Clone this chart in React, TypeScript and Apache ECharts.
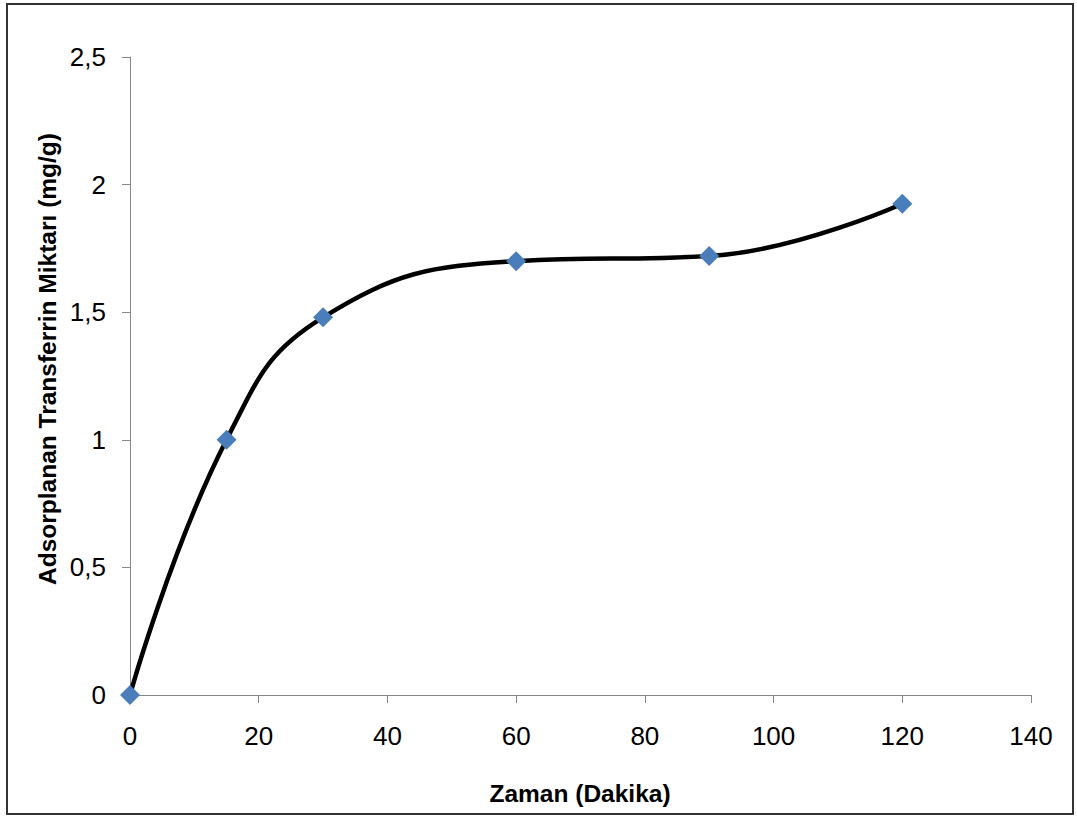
import React, { useEffect, useRef } from "react";
import * as echarts from "echarts";

const timeMinutes = [0, 15, 30, 60, 90, 120];
const adsorbed = [0, 1.0, 1.48, 1.7, 1.72, 1.925];
const xTitle = "Zaman (Dakika)";
const yTitle = "Adsorplanan Transferrin Miktarı (mg/g)";

export default function App() {
  const ref = useRef<HTMLDivElement>(null);
  useEffect(() => {
    if (!ref.current) return;
    const chart = echarts.init(ref.current, null, { renderer: "svg" });
    const axisGray = "#868686";
    chart.setOption({
      animation: false,
      backgroundColor: "#ffffff",
      grid: { left: 130, right: 46, top: 57, bottom: 124, containLabel: false },
      xAxis: {
        type: "value",
        min: 0,
        max: 140,
        interval: 20,
        axisLine: { show: true, onZero: false, lineStyle: { color: axisGray, width: 1 } },
        axisTick: { show: true, inside: false, length: 8, lineStyle: { color: axisGray } },
        splitLine: { show: false },
        axisLabel: {
          color: "#000",
          fontSize: 26,
          fontFamily: "Liberation Sans, Arial, sans-serif",
          margin: 28,
        },
      },
      yAxis: {
        type: "value",
        min: 0,
        max: 2.5,
        interval: 0.5,
        axisLine: { show: true, lineStyle: { color: axisGray, width: 1 } },
        axisTick: { show: true, inside: false, length: 8, lineStyle: { color: axisGray } },
        splitLine: { show: false },
        axisLabel: {
          color: "#000",
          fontSize: 26,
          fontFamily: "Liberation Sans, Arial, sans-serif",
          margin: 24,
          formatter: (v: number) => String(v).replace(".", ","),
        },
      },
      graphic: [
        {
          type: "rect",
          shape: { x: 7, y: 4, width: 1066, height: 810 },
          style: { fill: "none", stroke: "#333", lineWidth: 2 },
          silent: true,
          z: -10,
        },
        {
          type: "text",
          x: 47,
          y: 359,
          rotation: Math.PI / 2,
          style: {
            text: yTitle,
            fontSize: 24.5,
            fontWeight: "bold",
            fontFamily: "Liberation Sans, Arial, sans-serif",
            fill: "#000",
            align: "center",
            verticalAlign: "middle",
          },
        },
        {
          type: "text",
          x: 580,
          y: 793,
          style: {
            text: xTitle,
            fontSize: 24.5,
            fontWeight: "bold",
            fontFamily: "Liberation Sans, Arial, sans-serif",
            fill: "#000",
            align: "center",
            verticalAlign: "middle",
          },
        },
      ],
      series: [
        {
          type: "line",
          data: timeMinutes.map((t, i) => [t, adsorbed[i]]),
          smooth: 0.45,
          symbol: "diamond",
          symbolSize: [20, 20],
          lineStyle: { color: "#000", width: 4.5 },
          itemStyle: { color: "#4a7ebb", borderWidth: 0 },
          z: 3,
        },
      ],
    });
    return () => chart.dispose();
  }, []);
  return (
    <div
      ref={ref}
      style={{ position: "fixed", left: 0, top: 0, width: 1077, height: 819, background: "#fff" }}
    />
  );
}
